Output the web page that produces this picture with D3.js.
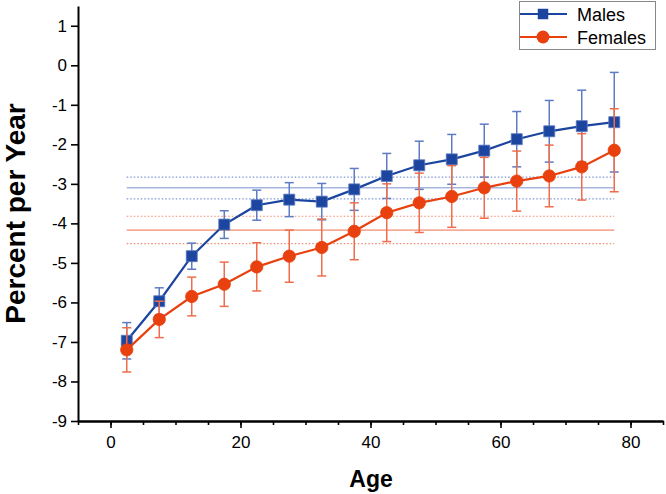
<!DOCTYPE html>
<html>
<head>
<meta charset="utf-8">
<script src="https://cdn.jsdelivr.net/npm/d3@7/dist/d3.min.js"></script>
<style>
  html, body { margin: 0; padding: 0; background: #fff; }
  svg { display: block; font-family: "Liberation Sans", Arial, sans-serif; }
</style>
</head>
<body>
<svg id="chart" width="666" height="494"></svg>
<script>
// ---- data ----
const ages = [2.5, 7.5, 12.5, 17.5, 22.5, 27.5, 32.5, 37.5, 42.5, 47.5, 52.5, 57.5, 62.5, 67.5, 72.5, 77.5];
const malesRate = [-6.97, -5.97, -4.83, -4.03, -3.54, -3.40, -3.45, -3.14, -2.80, -2.53, -2.38, -2.16, -1.87, -1.67, -1.54, -1.44];
const malesErr  = [0.46, 0.34, 0.33, 0.35, 0.38, 0.43, 0.46, 0.53, 0.57, 0.61, 0.63, 0.67, 0.70, 0.78, 0.91, 1.26];
const femalesRate = [-7.20, -6.43, -5.85, -5.54, -5.10, -4.83, -4.61, -4.20, -3.73, -3.48, -3.32, -3.10, -2.93, -2.80, -2.57, -2.15];
const femalesErr  = [0.56, 0.46, 0.49, 0.56, 0.61, 0.66, 0.72, 0.72, 0.73, 0.75, 0.78, 0.77, 0.76, 0.78, 0.84, 1.05];
const malesMean = [-3.10, -2.83, -3.38];     // mean, upper, lower
const femalesMean = [-4.17, -3.82, -4.51];
const yTicks = [-9, -8, -7, -6, -5, -4, -3, -2, -1, 0, 1];
const xTicks = [0, 20, 40, 60, 80];
const seriesNames = ["Males", "Females"];

// ---- layout ----
const svg = d3.select("#chart");
const x = d3.scaleLinear().domain([-5, 85]).range([78, 663]);
const y = d3.scaleLinear().domain([-9, 1.5]).range([421, 6]);

const BLUE = "#1c45a0", RED = "#e8400e";
const BLUE_ERR = "#5e7cc4", RED_ERR = "#ef6d4c";

// reference lines
function refLines(vals, solid, dotted) {
  const g = svg.append("g");
  const x0 = x(ages[0]), x1 = x(ages[ages.length - 1]);
  g.append("line").attr("x1", x0).attr("x2", x1).attr("y1", y(vals[0])).attr("y2", y(vals[0]))
    .attr("stroke", solid).attr("stroke-width", 1.6);
  [vals[1], vals[2]].forEach(v => {
    g.append("line").attr("x1", x0).attr("x2", x1).attr("y1", y(v)).attr("y2", y(v))
      .attr("stroke", dotted).attr("stroke-width", 1.2).attr("stroke-dasharray", "1.5,2");
  });
}
refLines(malesMean, "#a3b5e0", "#7f98d4");
refLines(femalesMean, "#f5ab95", "#f08c70");

function drawSeries(vals, errs, color, errColor, shape) {
  const g = svg.append("g");
  const data = ages.map((a, i) => ({ a, v: vals[i], e: errs[i] }));
  // error bars
  const eb = g.append("g").attr("stroke", errColor).attr("stroke-width", 1.5).attr("fill", "none");
  data.forEach(d => {
    const cx = x(d.a), yt = y(d.v + d.e), yb = y(d.v - d.e);
    eb.append("line").attr("x1", cx).attr("x2", cx).attr("y1", yt).attr("y2", yb);
    eb.append("line").attr("x1", cx - 4.5).attr("x2", cx + 4.5).attr("y1", yt).attr("y2", yt);
    eb.append("line").attr("x1", cx - 4.5).attr("x2", cx + 4.5).attr("y1", yb).attr("y2", yb);
  });
  // line
  g.append("path").datum(data)
    .attr("d", d3.line().x(d => x(d.a)).y(d => y(d.v)))
    .attr("fill", "none").attr("stroke", color).attr("stroke-width", 2.2);
  // markers
  const sym = d3.symbol().type(shape === "square" ? d3.symbolSquare : d3.symbolCircle)
    .size(shape === "square" ? 121 : 120);
  g.selectAll(".m").data(data).join("path")
    .attr("transform", d => `translate(${x(d.a)},${y(d.v)})`)
    .attr("d", sym).attr("fill", color)
    .attr("stroke", shape === "square" ? "#5a78c0" : color).attr("stroke-width", 0.8);
}
drawSeries(malesRate, malesErr, BLUE, BLUE_ERR, "square");
drawSeries(femalesRate, femalesErr, RED, RED_ERR, "circle");

// ---- axes ----
const fmt = d => String(d);
const yAxis = svg.append("g").attr("transform", `translate(${x(-5)},0)`)
  .call(d3.axisLeft(y).tickValues(yTicks).tickSize(7).tickSizeOuter(0).tickPadding(4).tickFormat(fmt));
const xMinor = svg.append("g").attr("transform", `translate(0,${y(-9)})`)
  .call(d3.axisBottom(x).tickValues(d3.range(-5, 86, 5)).tickSize(4).tickSizeOuter(0).tickFormat(""));
const xAxis = svg.append("g").attr("transform", `translate(0,${y(-9)})`)
  .call(d3.axisBottom(x).tickValues(xTicks).tickSize(7).tickSizeOuter(0).tickPadding(8).tickFormat(fmt));
[yAxis, xAxis, xMinor].forEach(a => {
  a.select(".domain").attr("stroke", "#000").attr("stroke-width", 2);
  a.selectAll(".tick line").attr("stroke", "#000").attr("stroke-width", 1.6);
  a.selectAll("text").attr("font-size", 17).attr("fill", "#000")
    .attr("font-family", "'Liberation Sans', Arial, sans-serif");
});

// axis titles
svg.append("text").attr("x", 371).attr("y", 487).attr("text-anchor", "middle")
  .attr("font-size", 23).attr("font-weight", "bold").text("Age");
svg.append("text").attr("transform", `translate(25,${(y(-9) + y(1.5)) / 2}) rotate(-90)`)
  .attr("text-anchor", "middle").attr("font-size", 28).attr("font-weight", "bold").text("Percent per Year");

// ---- legend ----
const lg = svg.append("g");
lg.append("rect").attr("x", 519.5).attr("y", 1.5).attr("width", 136).attr("height", 48)
  .attr("fill", "#fff").attr("stroke", "#888").attr("stroke-width", 1);
const legendItems = [
  { name: seriesNames[0], color: BLUE, shape: d3.symbolSquare, size: 110 },
  { name: seriesNames[1], color: RED, shape: d3.symbolCircle, size: 130 }
];
legendItems.forEach((it, i) => {
  const yy = 14 + i * 23;
  lg.append("line").attr("x1", 520).attr("x2", 567).attr("y1", yy).attr("y2", yy)
    .attr("stroke", it.color).attr("stroke-width", 2.2);
  lg.append("path").attr("transform", `translate(543,${yy})`)
    .attr("d", d3.symbol().type(it.shape).size(it.size)).attr("fill", it.color);
  lg.append("text").attr("x", 577).attr("y", yy + 6.5).attr("font-size", 18).attr("fill", "#000").text(it.name);
});
</script>
</body>
</html>
